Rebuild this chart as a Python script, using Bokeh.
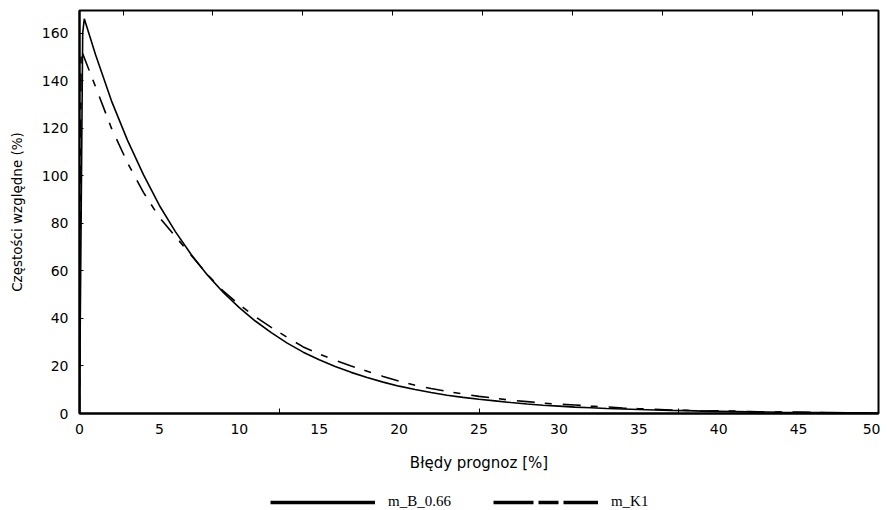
from bokeh.plotting import figure
from bokeh.models import (Range1d, FixedTicker, LinearAxis, Legend, LegendItem,
                          ColumnDataSource)
from bokeh.layouts import column
from bokeh.embed import file_html
from bokeh.resources import INLINE

# ---------------- data ----------------
solid_x = [0, 0.2, 0.3, 1, 2, 3, 4, 5, 6, 7, 8, 9, 10, 11, 12, 13, 14, 15, 16, 17,
           18, 19, 20, 21, 22, 23, 24, 25, 26, 27, 28, 29, 30, 31, 32, 33, 34, 35,
           36, 37, 38, 39, 40, 41, 42, 43, 44, 45, 46, 47, 48, 49, 50]
solid_y = [0, 160, 166, 151, 131.5, 115, 100.5, 87.5, 76.5, 66.8, 58.3, 50.9, 44.5,
           38.9, 34.0, 29.6, 25.8, 22.6, 19.8, 17.3, 15.1, 13.2, 11.5, 10.1, 8.8,
           7.7, 6.8, 6.0, 5.3, 4.6, 4.0, 3.5, 3.1, 2.7, 2.4, 2.1, 1.9, 1.7, 1.5,
           1.3, 1.2, 1.0, 0.9, 0.8, 0.7, 0.6, 0.5, 0.45, 0.4, 0.35, 0.3, 0.25, 0.2]

dashed_x = [0, 0.1, 0.45, 1, 2, 3, 4, 5, 6, 7, 8, 9, 10, 11, 12, 13, 14, 15, 16,
            17, 18, 19, 20, 21, 22, 23, 24, 25, 26, 27, 28, 29, 30, 31, 32, 33, 34,
            35, 36, 37, 38, 39, 40, 41, 42, 43, 44, 45, 46, 47]
dashed_y = [0, 153, 147, 137.5, 120, 105.5, 93, 82.5, 74.5, 66.5, 58.5, 51.5, 45.8,
            40.7, 36.2, 32.0, 28.0, 25.0, 22.4, 20.0, 17.8, 15.6, 13.6, 11.9, 10.5,
            9.3, 8.2, 7.2, 6.4, 5.6, 5.0, 4.4, 3.9, 3.6, 3.1, 2.8, 2.3, 2.0, 1.8,
            1.5, 1.3, 1.0, 1.1, 1.0, 0.8, 0.6, 0.7, 0.6, 0.5, 0.3]

series_labels = ["m_B_0.66", "m_K1"]
x_ticks = [0, 5, 10, 15, 20, 25, 30, 35, 40, 45, 50]
x_minor = [12.5, 25, 37.5]
top_ticks = [2.75, 8.33, 13.96, 19.6, 25.2, 30.85, 36.5, 42.1, 47.75]
y_ticks = [0, 20, 40, 60, 80, 100, 120, 140, 160]
x_title = "Błędy prognoz [%]"
y_title = "Częstości względne (%)"

FONT = "DejaVu Sans"
W = 880

p = figure(width=W, height=488, output_backend="svg", toolbar_location=None,
           x_range=Range1d(0, 50), y_range=Range1d(0, 169.5),
           min_border_left=79, min_border_right=2, min_border_top=10,
           min_border_bottom=75)
p.grid.visible = False
p.background_fill_color = "white"
p.border_fill_color = "white"
p.outline_line_color = "black"
p.outline_line_width = 2
p.outline_line_alpha = 1.0

# x axis
xa = p.xaxis[0]
xa.ticker = FixedTicker(ticks=x_ticks, minor_ticks=x_minor)
xa.major_tick_in = 0
xa.major_tick_out = 0
xa.minor_tick_in = 5
xa.minor_tick_out = 0
xa.minor_tick_line_color = "black"
xa.minor_tick_line_width = 1
xa.axis_line_color = "black"
xa.axis_line_width = 2
xa.major_label_standoff = 10
xa.major_label_text_font = FONT
xa.major_label_text_font_size = "14px"
xa.major_label_text_color = "black"
xa.axis_label = x_title
xa.axis_label_text_font = FONT
xa.axis_label_text_font_size = "15px"
xa.axis_label_text_font_style = "normal"
xa.axis_label_text_color = "black"
xa.axis_label_standoff = 17

# y axis
ya = p.yaxis[0]
ya.ticker = FixedTicker(ticks=y_ticks, minor_ticks=[])
ya.major_tick_in = 4
ya.major_tick_out = 0
ya.axis_line_color = "black"
ya.axis_line_width = 2
ya.major_label_standoff = 11
ya.major_label_text_font = FONT
ya.major_label_text_font_size = "14px"
ya.major_label_text_color = "black"
ya.axis_label = y_title
ya.axis_label_text_font = FONT
ya.axis_label_text_font_size = "13.5px"
ya.axis_label_text_font_style = "normal"
ya.axis_label_text_color = "black"
ya.axis_label_standoff = 14

# top axis: inward ticks only, no labels
ta = LinearAxis(ticker=FixedTicker(ticks=top_ticks, minor_ticks=[]),
                major_label_text_font_size="0px", major_label_text_color=None,
                major_tick_in=5, major_tick_out=0, major_tick_line_color="black",
                axis_line_color=None, major_label_standoff=0)
p.add_layout(ta, "above")

# curves
src_s = ColumnDataSource(dict(x=solid_x, y=solid_y))
src_d = ColumnDataSource(dict(x=dashed_x, y=dashed_y))
p.line("x", "y", source=src_s, line_color="black", line_width=1.6)
p.line("x", "y", source=src_d, line_color="black", line_width=1.6,
       line_dash="18 10 7 11")

# ---- legend strip below the chart (series lines kept out of its view) ----
q = figure(width=W, height=22, output_backend="svg", toolbar_location=None,
           x_range=Range1d(-3, -2), y_range=Range1d(-3, -2),
           min_border=0, min_border_left=0, min_border_right=0,
           min_border_top=0, min_border_bottom=0)
q.axis.visible = False
q.grid.visible = False
q.outline_line_color = None
q.background_fill_color = "white"
q.border_fill_color = "white"

r_leg_s = q.line("x", "y", source=src_s, line_color="black", line_width=3.5)
r_leg_d = q.line("x", "y", source=src_d, line_color="black", line_width=3.5,
                 line_dash="40 5 20 5")

legend = Legend(items=[LegendItem(label=series_labels[0], renderers=[r_leg_s]),
                       LegendItem(label=series_labels[1], renderers=[r_leg_d])],
                orientation="horizontal", location=(191, 0),
                glyph_width=105, glyph_height=14, label_standoff=13, spacing=42,
                label_text_font="Liberation Serif", label_text_font_size="15px",
                label_text_color="black", border_line_color=None,
                background_fill_alpha=0, padding=2, margin=0)
q.add_layout(legend, "center")

layout = column(p, q, spacing=0)
open("out.html", "w").write(file_html(layout, INLINE))
